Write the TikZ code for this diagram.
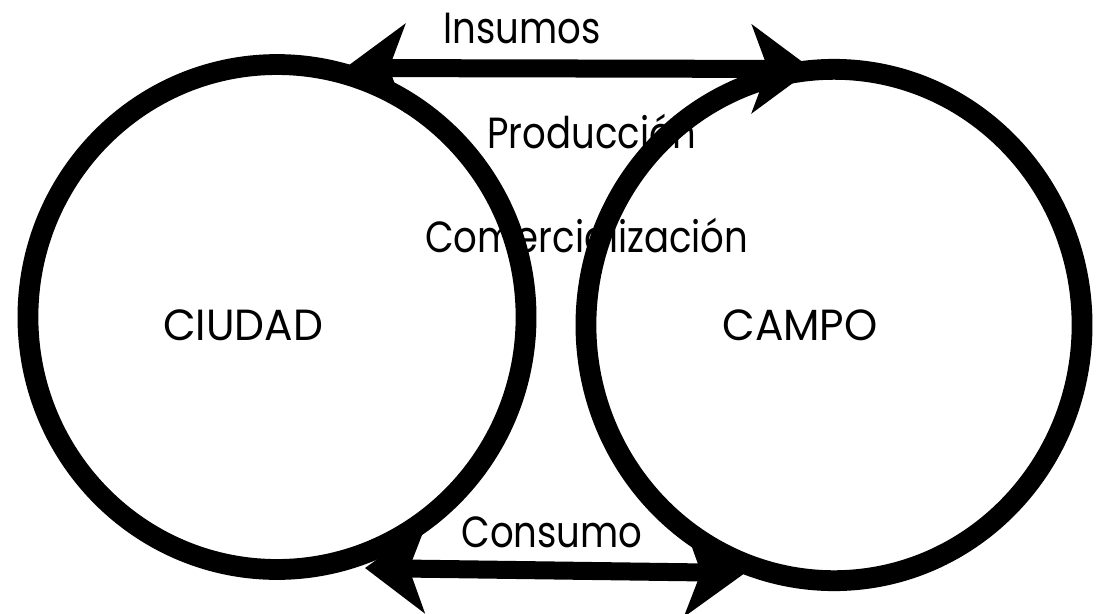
\documentclass[tikz,border=0pt]{standalone}
\usepackage{fontspec}
\usetikzlibrary{shapes.geometric, arrows.meta}
\newfontfamily\futura[FakeStretch=0.85]{Poppins}
\newfontfamily\futuracaps[FakeStretch=0.97]{Poppins}

\begin{document}
\begin{tikzpicture}
    [x=0.025cm, y=-0.025cm,
     every node/.style={font=\futura\fontsize{31}{36}\selectfont, inner sep=0pt},
     place/.style={font=\futuracaps\fontsize{31}{36}\selectfont},
     zone/.style={draw, ellipse, line width=5.2mm, inner sep=0pt, outer sep=0pt},
     flow/.style={line width=4.5mm, {Stealth[length=15mm, width=22mm, inset=4mm]}-{Stealth[length=15mm, width=22mm, inset=4mm]}}]

    \useasboundingbox (0,0) rectangle (1103,613);

    % labels under the circles
    \node[anchor=base west] (produccion) at (487,148) {Producción};
    \node[anchor=base west] (comercializacion) at (425,252) {Comercialización};

    \node[zone, minimum width=12.45cm, minimum height=12.62cm] (ciudad) at (277,317) {};
    \node[zone, minimum width=12.4cm, minimum height=12.78cm] (campo) at (834,325) {};

    \node[place, anchor=base] (ciudadtxt) at (243,340) {CIUDAD};
    \node[place, anchor=base] (campotxt) at (800,340) {CAMPO};
    \node[anchor=base] (insumos) at (522,43) {Insumos};
    \node[anchor=base] (consumo) at (552,547) {Consumo};

    \coordinate (insumosL) at (345,68);
    \coordinate (insumosR) at (812,69);
    \coordinate (consumoL) at (365,568);
    \coordinate (consumoR) at (745,573);

    \draw[flow] (insumosL) -- (insumosR);
    \draw[flow] (consumoL) -- (consumoR);
\end{tikzpicture}
\end{document}
